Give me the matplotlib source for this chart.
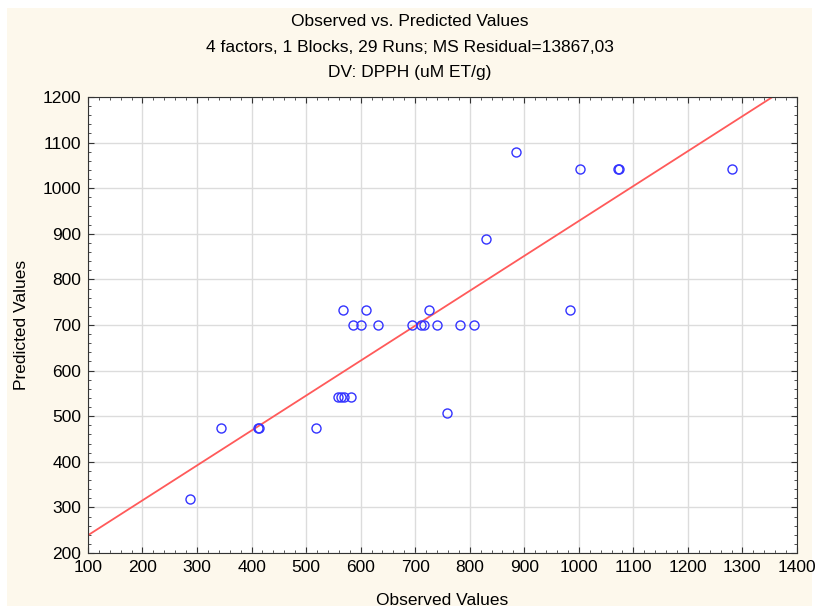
import matplotlib.pyplot as plt
import numpy as np
from matplotlib.patches import Rectangle
from matplotlib.ticker import MultipleLocator

# observed / predicted DPPH values for the 29 runs
observed = [288, 344, 411, 413, 518, 568, 610, 586, 600, 632,
            695, 710, 716, 740, 726, 782, 808, 558, 564, 570,
            583, 759, 829, 884, 984, 1003, 1072, 1074, 1281]
predicted = [318, 474, 474, 474, 474, 733, 733, 700, 700, 700,
             700, 700, 700, 700, 733, 700, 700, 543, 543, 543,
             543, 507, 888, 1079, 732, 1042, 1042, 1042, 1042]

x_ticks = list(range(100, 1401, 100))
y_ticks = list(range(200, 1201, 100))

plt.rcParams["font.family"] = ["Liberation Sans", "DejaVu Sans"]

fig = plt.figure(figsize=(8.19, 6.12), dpi=100, facecolor="white")
fig.patches.append(Rectangle((7 / 819, 0.01), 805 / 819, 0.977,
                             transform=fig.transFigure, facecolor="#fdf8ec",
                             edgecolor="none", zorder=-1))
ax = fig.add_axes([0.1074, 0.0964, 0.8657, 0.7451])
ax.set_facecolor("white")

ax.plot(observed, predicted, "o", markersize=6.5, markerfacecolor="none",
        markeredgecolor="#3333ff", markeredgewidth=1.0, zorder=3)

# least-squares fit of predicted on observed
slope, intercept = np.polyfit(observed, predicted, 1)
xs = np.array([100, 1400])
ax.plot(xs, slope * xs + intercept, color="#ff5a5a", linewidth=1.3, zorder=2)

ax.set_xlim(100, 1400)
ax.set_ylim(200, 1200)
ax.set_xticks(x_ticks)
ax.set_yticks(y_ticks)
ax.xaxis.set_minor_locator(MultipleLocator(20))
ax.yaxis.set_minor_locator(MultipleLocator(20))
ax.tick_params(which="both", direction="in", top=True, right=True,
               labelsize=12.5, color="#333333")
ax.tick_params(which="major", length=4, pad=5)
ax.tick_params(which="minor", length=2.5)
ax.grid(which="major", color="#dcdcdc", linewidth=1.0, zorder=0)
ax.set_axisbelow(True)
for s in ax.spines.values():
    s.set_color("#333333")

ax.set_xlabel("Observed Values", fontsize=12.5, labelpad=13)
ax.set_ylabel("Predicted Values", fontsize=12.5, labelpad=10)

fig.text(0.5, 1 - 22 / 612, "Observed vs. Predicted Values", ha="center", va="center", fontsize=12.5)
fig.text(0.5, 1 - 47 / 612, "4 factors, 1 Blocks, 29 Runs; MS Residual=13867,03",
         ha="center", va="center", fontsize=12.5)
fig.text(0.5, 1 - 72 / 612, "DV: DPPH (uM ET/g)", ha="center", va="center", fontsize=12.5)

fig.savefig("out.png", dpi=100, facecolor=fig.get_facecolor())
